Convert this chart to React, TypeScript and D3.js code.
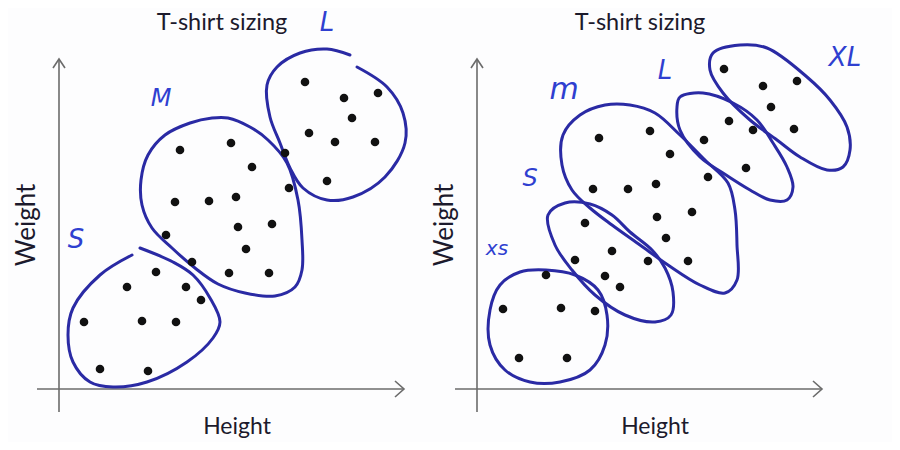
import React, { useEffect, useRef } from 'react';
import * as d3 from 'd3';

type Pt = [number, number];

// shared axis extents (height units, weight units)
const heightMax = 345;
const weightMax = 330;

// ---- left panel: S / M / L ----
const leftS: Pt[] = [[97,117],[68,102],[127,102],[142,89],[25,67],[83,68],[117,67],[41,20],[89,18]];
const leftM: Pt[] = [[121,239],[172,246],[193,222],[230,201],[116,187],[150,188],[177,192],[179,162],[213,165],[107,154],[187,140],[133,127],[170,116],[210,116]];
const leftL: Pt[] = [[246,307],[285,291],[319,296],[293,271],[250,256],[276,247],[316,247],[226,236],[268,208]];

const leftOutlineS: Pt[] = [[73,134],[41,114],[14,81],[9,54],[14,27],[31,7],[54,2],[88,7],[128,27],[154,51],[161,67],[151,91],[134,114],[114,127],[81,141]];
const leftOutlineM: Pt[] = [[169,271],[191,262],[209,249],[228,226],[239,189],[243,149],[243,119],[236,102],[216,93],[186,96],[159,105],[136,121],[113,141],[93,161],[83,184],[82,209],[89,234],[106,254],[131,266],[153,271]];
const leftOutlineL: Pt[] = [[298,322],[328,302],[344,276],[346,246],[326,212],[294,192],[268,189],[244,201],[231,221],[221,246],[211,272],[208,304],[218,322],[241,336],[268,340],[291,334]];

const leftLabels: { text: string; at: Pt; size: number }[] = [
  { text: 'L', at: [268, 367], size: 26 },
  { text: 'M', at: [102, 291], size: 24 },
  { text: 'S', at: [17, 150], size: 26 },
];

// ---- right panel: XS / S / M / L / XL ----
const rightXS: Pt[] = [[69,114],[26,80],[84,81],[118,78],[42,31],[90,31]];
const rightS: Pt[] = [[108,166],[135,138],[98,129],[128,113],[143,102],[171,128]];
const rightM: Pt[] = [[122,251],[173,258],[193,235],[116,200],[151,200],[179,205],[180,172],[215,177],[189,151],[211,128]];
const rightL: Pt[] = [[252,268],[276,259],[227,249],[269,221],[231,212]];
const rightXL: Pt[] = [[247,320],[286,303],[320,308],[294,282],[317,260]];

const rightOutlineXS: Pt[] = [[69,119],[98,114],[121,99],[130,74],[128,44],[113,19],[83,7],[53,7],[28,19],[13,44],[13,79],[23,104],[43,117]];
const rightOutlineS: Pt[] = [[71,174],[88,186],[113,185],[135,174],[153,157],[175,139],[188,121],[196,97],[194,74],[178,67],[148,74],[118,94],[95,119],[78,144]];
const rightOutlineM: Pt[] = [[86,254],[103,274],[128,284],[153,284],[178,276],[203,254],[228,229],[251,206],[258,179],[260,144],[260,109],[248,96],[223,104],[191,124],[163,144],[135,164],[113,181],[95,199],[85,224]];
const rightOutlineL: Pt[] = [[203,292],[226,296],[256,286],[280,269],[296,246],[310,222],[316,202],[310,189],[293,189],[273,199],[246,216],[223,232],[203,259],[200,282]];
const rightOutlineXL: Pt[] = [[236,336],[263,344],[290,341],[330,312],[353,289],[370,262],[373,239],[366,222],[350,219],[323,232],[300,249],[273,269],[246,296],[233,319]];

const rightLabels: { text: string; at: Pt; size: number }[] = [
  { text: 'm', at: [87, 301], size: 30 },
  { text: 'L', at: [188, 319], size: 26 },
  { text: 'XL', at: [368, 332], size: 26 },
  { text: 'S', at: [53, 211], size: 24 },
  { text: 'xs', at: [20, 141], size: 20 },
];

const title = 'T-shirt sizing';
const xLabel = 'Height';
const yLabel = 'Weight';

const INK = '#2a2aa4';
const AXIS = '#6b6b6b';
const TEXT = '#1c1a2c';
const FONT = 'Lato, "Open Sans", sans-serif';

interface Panel {
  left: number;
  points: Pt[][];
  closed: Pt[][];
  open: Pt[][];
  labels: { text: string; at: Pt; size: number }[];
}

const panels: Panel[] = [
  { left: 59, points: [leftS, leftM, leftL], closed: [leftOutlineM], open: [leftOutlineS, leftOutlineL], labels: leftLabels },
  { left: 477, points: [rightXS, rightS, rightM, rightL, rightXL], closed: [rightOutlineXS, rightOutlineS, rightOutlineM, rightOutlineL, rightOutlineXL], open: [], labels: rightLabels },
];

const App: React.FC = () => {
  const svgRef = useRef<SVGSVGElement>(null);

  useEffect(() => {
    if (!svgRef.current) return;
    const svg = d3.select(svgRef.current);
    svg.selectAll('*').remove();

    svg.append('rect').attr('width', 900).attr('height', 450).attr('fill', '#fdfdfe');

    const y = d3.scaleLinear().domain([0, weightMax]).range([389, 59]);

    panels.forEach((p) => {
      const x = d3.scaleLinear().domain([0, heightMax]).range([p.left, p.left + heightMax]);
      const g = svg.append('g');

      // axes
      g.append('line')
        .attr('x1', x(-22)).attr('x2', x(heightMax))
        .attr('y1', y(0)).attr('y2', y(0))
        .attr('stroke', AXIS).attr('stroke-width', 1.6);
      g.append('line')
        .attr('x1', x(0)).attr('x2', x(0))
        .attr('y1', y(-23)).attr('y2', y(weightMax))
        .attr('stroke', AXIS).attr('stroke-width', 1.6);

      // arrow heads (open chevrons)
      const ax = x(heightMax), ay = y(0);
      g.append('path')
        .attr('d', `M${ax - 9},${ay - 8} L${ax},${ay} L${ax - 9},${ay + 8}`)
        .attr('fill', 'none').attr('stroke', AXIS).attr('stroke-width', 1.6);
      const tx = x(0), ty = y(weightMax);
      g.append('path')
        .attr('d', `M${tx - 6},${ty + 9} L${tx},${ty} L${tx + 6},${ty + 9}`)
        .attr('fill', 'none').attr('stroke', AXIS).attr('stroke-width', 1.6);

      // title & axis labels
      g.append('text')
        .attr('x', x(163)).attr('y', 30)
        .attr('text-anchor', 'middle')
        .attr('font-family', FONT)
        .attr('font-size', 23.5).attr('fill', TEXT)
        .text(title);
      g.append('text')
        .attr('x', x(178)).attr('y', 434)
        .attr('text-anchor', 'middle')
        .attr('font-family', FONT)
        .attr('font-size', 23).attr('fill', TEXT)
        .text(xLabel);
      g.append('text')
        .attr('transform', `translate(${x(0) - 34},${y(164)}) rotate(-90)`)
        .attr('text-anchor', 'middle')
        .attr('dominant-baseline', 'central')
        .attr('font-family', FONT)
        .attr('font-size', 26).attr('fill', TEXT)
        .text(yLabel);

      // cluster outlines
      const closedLine = d3.line<Pt>().x(d => x(d[0])).y(d => y(d[1])).curve(d3.curveCatmullRomClosed);
      const openLine = d3.line<Pt>().x(d => x(d[0])).y(d => y(d[1])).curve(d3.curveCatmullRom);
      p.closed.forEach((o) => {
        g.append('path').attr('d', closedLine(o)).attr('fill', 'none')
          .attr('stroke', INK).attr('stroke-width', 3).attr('stroke-linejoin', 'round');
      });
      p.open.forEach((o) => {
        g.append('path').attr('d', openLine(o)).attr('fill', 'none')
          .attr('stroke', INK).attr('stroke-width', 3).attr('stroke-linecap', 'round');
      });

      // points
      p.points.forEach((cluster) => {
        g.selectAll(null)
          .data(cluster)
          .enter()
          .append('circle')
          .attr('cx', d => x(d[0]))
          .attr('cy', d => y(d[1]))
          .attr('r', 4.3)
          .attr('fill', '#111');
      });

      // hand-written size labels
      p.labels.forEach((l) => {
        g.append('text')
          .attr('x', x(l.at[0])).attr('y', y(l.at[1]))
          .attr('text-anchor', 'middle')
          .attr('dominant-baseline', 'central')
          .attr('font-family', '"DejaVu Sans", sans-serif')
          .attr('font-style', 'italic')
          .attr('font-weight', 300)
          .attr('font-size', l.size)
          .attr('fill', '#2f3fd0')
          .text(l.text);
      });
    });
  }, []);

  return (
    <div style={{ width: 900, height: 450, margin: -8 }}>
      <svg ref={svgRef} width={900} height={450} style={{ display: 'block' }} />
    </div>
  );
};

export default App;
